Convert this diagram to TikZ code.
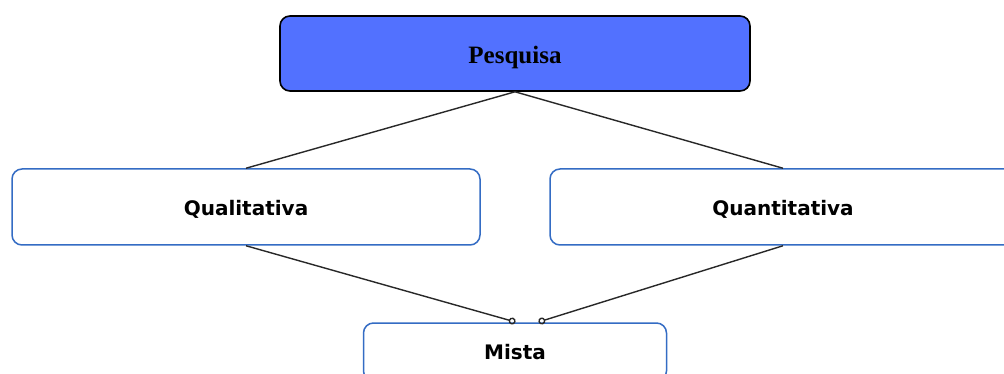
\documentclass[tikz,border=0pt]{standalone}
\usepackage{fontspec}
\setmainfont{Liberation Serif}
\newfontfamily\boxfont{DejaVu Sans}
\definecolor{TopBlue}{RGB}{82, 113, 255}
\definecolor{EdgeBlue}{RGB}{52, 108, 196}
\definecolor{LineGray}{RGB}{40, 40, 40}
\usetikzlibrary{arrows.meta, positioning}

\begin{document}
\begin{tikzpicture}[
        x=1pt, y=1pt,
        top/.style={rectangle, draw=black, line width=1.6pt, fill=TopBlue, rounded corners=10pt, minimum width=470pt, minimum height=75pt, text height=20.5pt, text depth=0pt, font=\fontsize{25}{30}\selectfont\bfseries},
        block/.style={rectangle, draw=EdgeBlue, line width=1.5pt, fill=white, rounded corners=10pt, minimum height=76pt, text height=18pt, text depth=0pt, font=\boxfont\fontsize{20}{24}\selectfont\bfseries},
        line/.style={draw=LineGray, line width=1.4pt},
        mixline/.style={line, -{Circle[open, length=7pt, width=7pt]}}
    ]
        \clip (0,0) rectangle (1004,-374);
        \fill[white] (0,0) rectangle (1004,-374);

        \node [top] (pesquisa) at (515,-53.5) {Pesquisa};
        \node [block, minimum width=468pt] (quali) at (246,-207) {Qualitativa};
        \node [block, minimum width=466pt] (quanti) at (783,-207) {Quantitativa};
        \node [block, minimum width=303pt, minimum height=58pt, text height=15pt] (mista) at (515,-352) {Mista};

        % pontos de chegada em Mista
        \coordinate (mistaL) at (515.5,-322);
        \coordinate (mistaR) at (538.5,-322);

        \path [line] (pesquisa.south) -- (quali.north);
        \path [line] (pesquisa.south) -- (quanti.north);
        \path [mixline] (quali.south) -- (mistaL);
        \path [mixline] (quanti.south) -- (mistaR);
    \end{tikzpicture}
\end{document}
